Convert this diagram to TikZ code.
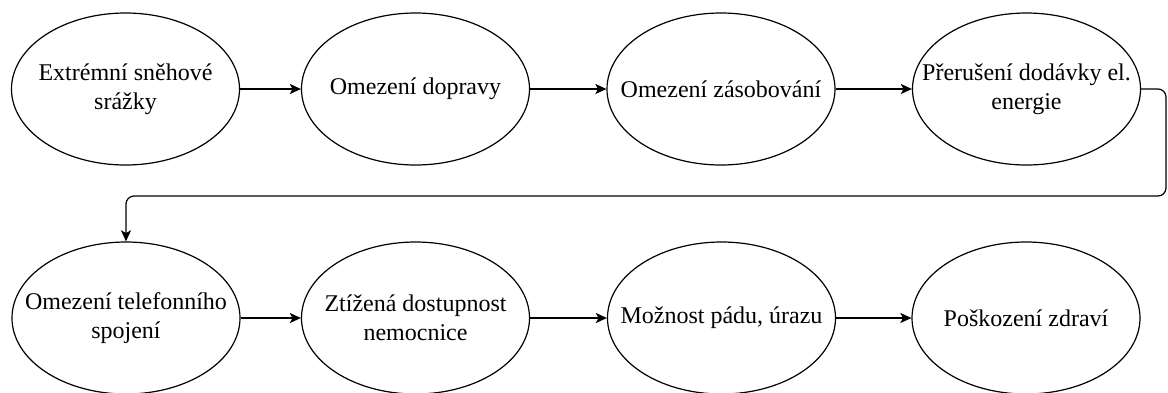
\documentclass[tikz,border=0pt]{standalone}
\usepackage{fontspec}
\setmainfont{Liberation Serif}
\newfontfamily\eventfont{Liberation Serif}
\usetikzlibrary{shapes.geometric,arrows.meta}

\tikzset{
  % negative horizontal inner sep keeps long labels from widening the ellipse
  event/.style={ellipse, draw=black, line width=1.2pt, minimum width=228pt,
    minimum height=152pt, inner xsep=-45pt, inner ysep=0pt, align=center,
    font=\eventfont\fontsize{24}{29}\selectfont},
  flow/.style={line width=1.2pt, -{Stealth[length=11pt,width=10pt,inset=2.5pt]}}
}

\begin{document}
\begin{tikzpicture}[x=1pt,y=-1pt]
  \useasboundingbox (0,0) rectangle (1168,392);

  % upper chain
  \node[event] (e1) at (125.5,89) {Extrémní sněhové\\srážky};
  \node[event] (e2) at (415.5,89) {Omezení dopravy};
  \node[event] (e3) at (721,89)   {Omezení zásobování};
  \node[event] (e4) at (1026.5,89) {Přerušení dodávky el.\\energie};

  % lower chain
  \node[event] (e5) at (126,318)   {Omezení telefonního\\spojení};
  \node[event] (e6) at (415.5,318) {Ztížená dostupnost\\nemocnice};
  \node[event] (e7) at (721.5,318) {Možnost pádu, úrazu};
  \node[event] (e8) at (1026,318)  {Poškození zdraví};

  \draw[flow] (e1) -- (e2);
  \draw[flow] (e2) -- (e3);
  \draw[flow] (e3) -- (e4);
  \draw[flow] (e5) -- (e6);
  \draw[flow] (e6) -- (e7);
  \draw[flow] (e7) -- (e8);

  % wrap from the end of the upper row to the start of the lower row
  \coordinate (bend) at (1166,196);
  \draw[flow, rounded corners=8pt] (e4.east) -| (bend) -| (e5.north);
\end{tikzpicture}
\end{document}
